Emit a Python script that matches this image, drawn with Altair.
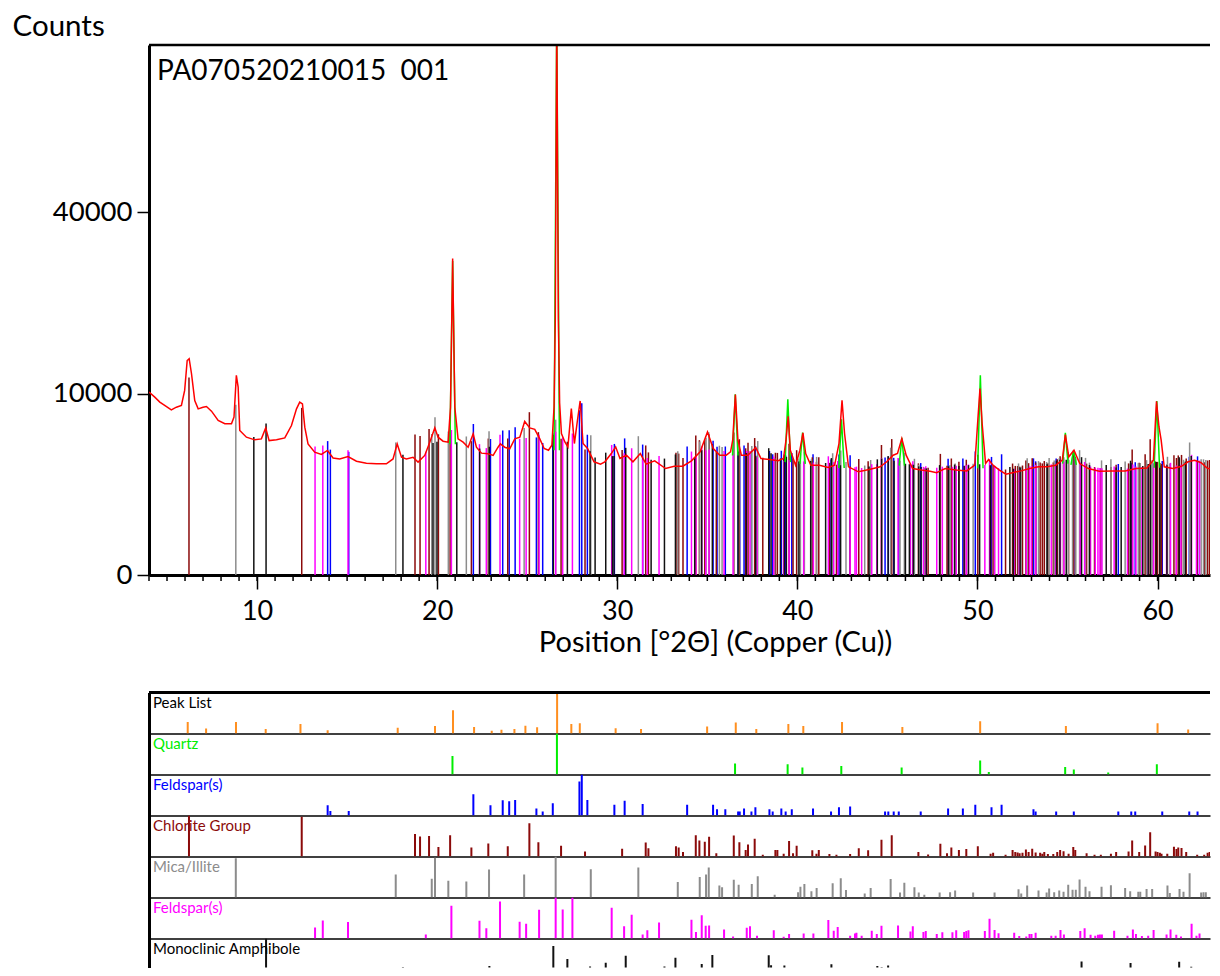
import altair as alt
import pandas as pd
import numpy as np

PX_PER_DEG = 18.01
W = 1061
X_MIN = 4.0
X_MAX = X_MIN + W / PX_PER_DEG
H_MAIN = 530
Y_MAX = 85500
PANEL_H = 41

# ---------------- measured pattern (red) ----------------
meas_x = [4.00, 4.32, 4.60, 4.87, 5.24, 5.52, 5.80, 5.98, 6.12, 6.23, 6.36, 6.54, 6.73, 7.00, 7.19,
          7.47, 7.84, 8.21, 8.58, 8.72, 8.85, 8.95, 9.04, 9.41, 9.87, 10.24, 10.48, 10.67, 11.08,
          11.54, 11.91, 12.19, 12.37, 12.52, 12.65, 12.83, 13.20, 13.57, 13.91, 14.22, 14.59, 15.05,
          15.52, 16.07, 16.63, 17.18, 17.55, 17.78, 18.02, 18.29, 18.66, 18.94, 19.31, 19.59, 19.87,
          20.05, 20.33, 20.61, 20.74, 20.86, 20.98, 21.16, 21.44, 21.72, 22.00, 22.18, 22.46, 22.83,
          23.11, 23.38, 23.51, 23.75, 24.03, 24.31, 24.59, 24.86, 25.14, 25.42, 25.70, 25.94, 26.18,
          26.37, 26.49, 26.56, 26.64, 26.73, 26.80, 26.90, 27.09, 27.26, 27.45, 27.62, 27.79, 27.94,
          28.10, 28.35, 28.71, 29.07, 29.31, 29.67, 29.91, 30.15, 30.51, 30.87, 31.28, 31.60, 32.08,
          32.68, 33.16, 33.64, 34.12, 34.60, 35.01, 35.33, 35.69, 36.05, 36.29, 36.41, 36.56, 36.70,
          36.89, 37.25, 37.69, 37.98, 38.46, 38.94, 39.23, 39.37, 39.49, 39.61, 39.90, 40.14, 40.31,
          40.46, 40.75, 41.23, 41.71, 42.07, 42.31, 42.48, 42.62, 42.84, 43.39, 43.99, 44.60, 44.96,
          45.32, 45.56, 45.80, 46.04, 46.40, 46.89, 47.37, 47.73, 48.21, 48.81, 49.41, 49.85, 50.02,
          50.14, 50.26, 50.45, 50.62, 50.86, 51.22, 51.58, 51.94, 52.42, 52.90, 53.39, 53.87, 54.35,
          54.71, 54.88, 55.07, 55.36, 55.68, 56.16, 56.76, 57.48, 58.20, 58.81, 59.41, 59.77, 59.94,
          60.08, 60.20, 60.37, 60.85, 61.33, 61.69, 62.06, 62.42, 62.78, 63.41]
meas_y = [10180, 9630, 9100, 8750, 8300, 8570, 8750, 10370, 14000, 14240, 12330, 9270, 8400, 8570, 8640,
          8170, 7270, 6960, 6960, 7600, 12130, 10750, 6360, 5780, 5560, 5640, 6590, 5500, 5560,
          5720, 6800, 8400, 9100, 8910, 6650, 5230, 4590, 4420, 4720, 4170, 4100, 4270,
          3940, 3800, 3760, 3760, 4100, 5230, 4220, 4100, 4220, 3880, 4350, 5370, 6590,
          5780, 5450, 5370, 8570, 30500, 8570, 5640, 5370, 4970, 6070, 4970, 4520, 4470,
          4350, 4970, 5230, 4970, 4850, 5640, 5780, 7180, 6590, 6460, 5640, 4870, 4740,
          5130, 8590, 20000, 95000, 20000, 9000, 6090, 5390, 5000, 8430, 5260, 7290, 9220,
          5260, 4870, 3900, 3740, 3900, 4490, 5000, 4130, 4370, 3900, 4490, 3740, 3970,
          3450, 3600, 3600, 3970, 4620, 6230, 4870, 4370, 4370, 4620, 5530, 9900, 5530,
          4370, 4370, 4940, 4130, 4060, 3970, 4130, 5530, 7670, 4740, 3670, 4740, 6150,
          4490, 3670, 3670, 3520, 3670, 5260, 9290, 6090, 3560, 3240, 3390, 3560, 3900,
          4370, 4490, 5670, 4370, 3450, 3350, 3280, 3180, 3450, 3350, 3300, 3670, 7290,
          10570, 6980, 3780, 4060, 3670, 3350, 3090, 3180, 3300, 3450, 3560, 3560, 3670,
          4010, 6000, 4250, 4740, 3780, 3450, 3280, 3300, 3300, 3450, 3490, 4010, 9190,
          6670, 5530, 3560, 3450, 3600, 3900, 4010, 3840, 3450, 3450]

# background level under the pattern (base of the reference sticks)
bg_x = [4, 5, 6, 7, 8, 9, 10, 11, 12, 13, 14, 15, 16, 17, 18, 19, 20, 21, 22, 23, 24, 25, 26, 27, 28,
        29, 30, 31, 32, 33, 34, 35, 36, 37, 38, 39, 40, 41, 42, 43, 44, 45, 46, 47, 48, 49, 50, 51,
        52, 53, 54, 55, 56, 57, 58, 59, 60, 61, 62, 63.5]
bg_y = [9900, 8400, 8300, 8200, 6900, 6200, 5500, 5450, 5300, 4700, 4300, 4150, 3850, 3750, 3950,
        4050, 5200, 5200, 4600, 4500, 4800, 5200, 4800, 4700, 4500, 3850, 4100, 4000, 3800, 3550,
        3900, 4300, 4350, 4350, 4050, 3950, 3800, 3650, 3600, 3350, 3400, 3800, 3600, 3320, 3350,
        3330, 3500, 3300, 3200, 3450, 3600, 3800, 3500, 3300, 3300, 3450, 3500, 3500, 3900, 3450]

# quartz calculated profile peaks (green)
qp_x = [20.86, 26.64, 36.55, 39.47, 40.29, 42.45, 45.80, 50.16, 54.88, 55.34, 59.96]
qp_y = [30000, 95000, 9940, 9400, 6180, 7380, 5720, 12140, 6150, 4740, 9220]

# ---------------- reference patterns (stick positions, relative intensity %) ----------------
peak_x = [6.15, 7.17, 8.83, 10.48, 12.41, 13.92, 17.81, 19.88, 20.88, 22.05, 23.03, 23.57, 24.29, 24.90,
          25.55, 26.66, 27.45, 27.92, 29.91, 31.32, 34.99, 36.58, 37.72, 39.50, 40.33, 42.48, 45.83,
          50.15, 54.91, 60.00, 61.70]
peak_i = [28, 12, 28, 11, 23, 8, 14, 18, 57, 16, 7, 9, 11, 19,
          15, 100, 23, 25, 13, 11, 17, 27, 11, 23, 18, 28, 16,
          30, 18, 25, 10]

quartz_x = [20.85, 26.65, 36.54, 39.46, 40.28, 42.44, 45.79, 50.15, 50.63, 54.87, 55.35, 57.26, 59.96]
quartz_i = [45, 100, 27, 25, 17, 21, 17, 34, 6, 18, 12, 5, 25]

felds_x = [13.92, 14.07, 15.09, 22.01, 22.96, 23.64, 24.00, 24.33, 25.51, 25.86, 26.42, 27.90, 28.03,
           28.34, 29.84, 30.41, 31.41, 33.88, 35.32, 35.54, 36.00, 36.71, 36.80, 37.04, 37.45, 37.67,
           38.45, 38.63, 39.11, 39.35, 39.69, 40.87, 41.87, 42.31, 42.93, 44.87, 45.05, 45.35, 45.63,
           46.85, 48.37, 49.19, 49.88, 50.78, 51.34, 53.11, 53.23, 54.37, 55.35, 57.82, 58.54, 58.76,
           60.26, 61.76, 62.22]
felds_i = [25, 11, 11, 52, 25, 37, 35, 38, 17, 10, 30, 83, 100,
           38, 26, 36, 28, 26, 26, 15, 15, 10, 10, 17, 10, 20,
           15, 10, 17, 10, 15, 17, 10, 20, 22, 10, 10, 10, 10,
           10, 17, 17, 26, 20, 26, 15, 10, 10, 10, 10, 10, 10,
           10, 10, 10]

chl_x = [6.22, 12.48, 18.77, 19.05, 19.55, 20.07, 20.72, 21.90, 22.84, 23.92,
         25.12, 25.62, 26.88, 28.21, 30.27, 31.58, 31.73, 33.26, 33.41, 33.65,
         34.36, 34.56, 34.86, 35.10, 35.50, 36.47, 36.78, 37.13, 37.26, 37.63,
         38.08, 38.78, 38.89, 39.24, 39.54, 39.76, 39.96, 40.83, 41.06, 41.19,
         41.78, 42.17, 42.93, 43.41, 43.93, 44.67, 45.24, 46.72, 47.26, 47.94,
         48.31, 48.55, 48.97, 49.38, 50.02, 50.73, 50.87, 51.56, 51.95, 52.10,
         52.23, 52.34, 52.50, 52.69, 52.84, 53.04, 53.23, 53.48, 53.60, 53.71,
         53.91, 54.21, 54.43, 54.59, 54.78, 55.06, 55.32, 55.43, 56.06, 56.50,
         56.85, 57.41, 57.70, 58.39, 58.59, 58.98, 59.31, 59.59, 59.89, 60.00,
         60.13, 60.22, 60.54, 60.91, 61.05, 61.15, 61.33, 61.59, 62.20, 62.59,
         62.78, 62.89, 63.03, 63.22, 63.37]
chl_i = [100, 97, 55, 49, 50, 23, 52, 22, 32, 25,
         81, 35, 26, 12, 19, 34, 20, 25, 22, 11,
         52, 39, 36, 48, 8, 51, 35, 16, 29, 43,
         4, 16, 16, 7, 38, 8, 26, 15, 7, 16,
         6, 4, 6, 20, 15, 41, 52, 11, 5, 31,
         8, 22, 16, 18, 25, 7, 9, 4, 16, 11,
         10, 8, 9, 17, 11, 19, 10, 9, 7, 11,
         6, 6, 11, 16, 13, 7, 23, 16, 8, 4,
         4, 7, 11, 12, 39, 11, 27, 59, 12, 11,
         9, 7, 7, 24, 18, 22, 21, 11, 4, 4,
         9, 11, 10, 7, 9]

mica_x = [8.82, 17.70, 19.70, 19.88, 20.62, 21.62, 22.88, 24.83, 26.58, 28.53,
          31.17, 33.36, 34.58, 34.93, 35.08, 35.67, 35.82, 36.47, 36.74, 37.47,
          37.80, 38.74, 40.04, 40.17, 40.39, 40.78, 41.07, 41.96, 42.41, 42.70,
          43.74, 44.07, 45.18, 45.70, 45.94, 46.50, 46.74, 47.05, 47.90, 48.48,
          48.76, 49.76, 50.95, 52.28, 52.43, 52.76, 53.39, 53.84, 53.98, 54.26,
          54.54, 54.78, 55.04, 55.28, 55.46, 55.67, 56.00, 56.22, 56.89, 57.41,
          58.20, 58.48, 58.93, 59.04, 59.39, 59.70, 60.55, 60.68, 61.22, 61.44,
          61.78, 62.42, 62.55, 62.68, 62.98, 63.11]
mica_i = [96, 56, 46, 97, 41, 39, 68, 56, 100, 69,
          73, 38, 50, 56, 73, 29, 25, 43, 31, 33,
          52, 7, 13, 26, 33, 15, 23, 35, 47, 18,
          10, 23, 45, 12, 36, 25, 12, 7, 12, 13,
          17, 12, 12, 20, 10, 29, 17, 12, 22, 13,
          17, 14, 31, 19, 19, 44, 26, 15, 26, 30,
          23, 15, 14, 14, 21, 21, 29, 11, 21, 14,
          59, 12, 13, 13, 17, 15]

feld2_x = [13.22, 13.65, 15.05, 19.37, 20.79, 22.35, 22.73, 23.49, 24.58, 24.94,
           25.66, 26.58, 26.97, 27.51, 29.69, 30.38, 30.80, 31.41, 31.67, 32.32,
           34.12, 34.37, 34.69, 34.91, 35.10, 35.93, 36.43, 37.19, 37.37, 37.76,
           38.69, 39.24, 39.54, 40.35, 40.89, 41.72, 42.02, 42.24, 42.93, 43.20,
           43.28, 43.57, 44.13, 44.41, 44.67, 45.59, 46.28, 46.41, 47.00, 47.13,
           47.74, 48.05, 48.61, 48.82, 49.26, 49.38, 49.50, 50.41, 50.67, 50.95,
           51.17, 52.04, 52.32, 52.71, 52.89, 53.00, 53.23, 54.10, 54.34, 54.61,
           54.80, 55.71, 55.95, 56.28, 56.54, 56.69, 56.80, 56.91, 57.59, 58.33,
           58.63, 58.80, 59.13, 59.48, 59.78, 60.50, 60.72, 61.04, 61.30, 61.89,
           62.16, 62.33, 63.16]
feld2_i = [27, 44, 40, 10, 80, 43, 25, 90, 41, 36,
           70, 100, 71, 100, 75, 30, 58, 10, 20, 39,
           46, 16, 57, 31, 32, 22, 5, 26, 30, 7,
           20, 4, 11, 12, 12, 45, 19, 28, 7, 12,
           14, 7, 19, 11, 31, 32, 17, 30, 16, 18,
           11, 15, 15, 20, 16, 18, 20, 18, 48, 21,
           13, 14, 6, 5, 11, 11, 14, 7, 7, 21,
           10, 18, 25, 9, 7, 9, 10, 10, 19, 7,
           22, 11, 6, 7, 21, 10, 22, 9, 5, 36,
           7, 12, 16]

amph_x = [9.82, 10.50, 18.10, 19.77, 19.99, 21.09, 22.36, 22.90, 26.45, 27.23,
          28.49, 28.77, 29.36, 29.73, 29.82, 30.47, 31.88, 32.62, 33.23, 34.30,
          34.69, 35.28, 36.71, 37.17, 37.69, 38.41, 38.54, 39.06, 39.28, 39.39,
          40.09, 40.74, 41.57, 41.89, 42.39, 43.98, 44.44, 44.68, 45.04, 45.37,
          46.00, 46.22, 46.44, 46.74, 46.87, 47.16, 47.90, 48.40, 48.73, 48.97,
          49.26, 49.50, 50.12, 50.71, 51.80, 52.00, 52.37, 53.87, 54.39, 54.58,
          54.93, 55.78, 56.22, 57.15, 57.70, 57.98, 58.50, 59.18, 59.48, 59.61,
          59.93, 60.13, 60.52, 61.20, 61.54, 61.87, 63.07, 63.26]
amph_i = [12, 100, 30, 25, 14, 15, 20, 33, 82, 50,
          32, 13, 41, 18, 17, 58, 15, 32, 53, 14,
          38, 60, 20, 15, 12, 59, 35, 13, 34, 24,
          9, 18, 13, 37, 11, 12, 33, 30, 34, 17,
          11, 13, 15, 13, 13, 9, 22, 17, 25, 19,
          17, 17, 17, 20, 22, 16, 15, 10, 20, 22,
          17, 44, 15, 25, 14, 17, 40, 11, 18, 20,
          26, 10, 11, 43, 13, 31, 14, 16]

minor_ticks = list(range(4, 63))
major_ticks = [10, 20, 30, 40, 50, 60]

# phase: label, stick colour, label colour, xs, intensities, stick scale in main plot (counts per 100 %)
phases = [
    ("Peak List", "#FF8F1F", "#000000", peak_x, peak_i, None),
    ("Quartz", "#00EE00", "#00EE00", quartz_x, quartz_i, None),
    ("Feldspar(s)", "#0000FF", "#0000FF", felds_x, felds_i, 4500),
    ("Chlorite Group", "#8B0A0A", "#8B0A0A", chl_x, chl_i, 3600),
    ("Mica/Illite", "#8C8C8C", "#8C8C8C", mica_x, mica_i, 2600),
    ("Feldspar(s)", "#FF00FF", "#FF00FF", feld2_x, feld2_i, 1500),
    ("Monoclinic Amphibole", "#111111", "#000000", amph_x, amph_i, 1500),
]

FONT = "Lato"
one = pd.DataFrame({"k": [0]})

xscale = alt.Scale(domain=[X_MIN, X_MAX], nice=False, zero=False)
yscale = alt.Scale(type="sqrt", domain=[0, Y_MAX], nice=False)

x_axis = alt.Axis(values=major_ticks, tickSize=14, tickWidth=1.5, tickColor="black",
                  domainWidth=3, domainColor="black", labelFontSize=27, labelFont=FONT,
                  labelColor="black", labelPadding=9.5, labelFlush=False,
                  title="Position [°2Θ] (Copper (Cu))", titleFontSize=29, titleFont=FONT,
                  titleFontWeight="normal", titleColor="black", titlePadding=4,
                  titleX=566, titleAlign="center", grid=False)
y_axis = alt.Axis(values=[0, 10000, 40000], format="d", tickSize=12, tickWidth=1.5,
                  tickColor="black", domainWidth=3, domainColor="black", labelFontSize=27.5,
                  labelFont=FONT, labelColor="black", labelPadding=5, labelFlush=False,
                  title="Counts", titleAngle=0, titleAlign="left", titleBaseline="alphabetic",
                  titleX=-137, titleY=-10, titleFontSize=29.5, titleFont=FONT,
                  titleFontWeight="normal", titleColor="black", grid=False)

X = alt.X("x:Q", scale=xscale, axis=x_axis)

# main-plot sticks
rows = []
for name, col, lab_col, xs, ints, S in phases:
    if S is None:
        continue
    base = np.interp(xs, bg_x, bg_y)
    for xv, iv, b in zip(xs, ints, base):
        rows.append({"x": xv, "top": b + S * iv / 100.0, "base": 0, "c": col})
sticks_df = pd.DataFrame(rows)

sticks = alt.Chart(sticks_df).mark_rule(strokeWidth=1.5, clip=True).encode(
    x=X, y=alt.Y("top:Q", scale=yscale, axis=y_axis), y2=alt.Y2("base:Q"),
    color=alt.Color("c:N", scale=None))

meas_df = pd.DataFrame({"x": meas_x, "y": meas_y})
red = alt.Chart(meas_df).mark_line(color="#FF0000", strokeWidth=1.5, clip=True).encode(
    x=X, y=alt.Y("y:Q", scale=yscale, axis=y_axis))

HW = 0.15
grows = []
for k, (c, h) in enumerate(zip(qp_x, qp_y)):
    b = float(np.interp(c, bg_x, bg_y))
    grows += [{"x": c - HW, "y": b, "p": k}, {"x": c, "y": h, "p": k}, {"x": c + HW, "y": b, "p": k}]
green = alt.Chart(pd.DataFrame(grows)).mark_line(color="#00EE00", strokeWidth=1.5, clip=True).encode(
    x=X, y=alt.Y("y:Q", scale=yscale, axis=y_axis), detail="p:N")

minor = alt.Chart(pd.DataFrame({"x": minor_ticks})).mark_rule(color="black", strokeWidth=1.5).encode(
    x=X, y=alt.value(H_MAIN), y2=alt.value(H_MAIN + 6))

top_border = alt.Chart(one).mark_rule(color="black", strokeWidth=2.5).encode(
    x=alt.value(0), x2=alt.value(W), y=alt.value(0))

title_txt = alt.Chart(one).mark_text(text="PA070520210015 \u00a0001", align="left",
                                      baseline="alphabetic", fontSize=28, font=FONT,
                                      color="black").encode(x=alt.value(8), y=alt.value(35))

main = alt.layer(sticks, green, red, minor, top_border, title_txt).properties(width=W, height=H_MAIN)

# ---------------- stick panels ----------------
panels = []
n = len(phases)
for k, (name, col, lab_col, xs, ints, S) in enumerate(phases):
    last = (k == n - 1)
    if last:
        h = 29
        dom = [29.27, 100]
    else:
        h = PANEL_H
        dom = [0, 100]
    df = pd.DataFrame({"x": xs, "i": ints})
    df["b"] = 0
    if last:
        xa = None
    else:
        xa = alt.Axis(domain=True, domainColor="#404040", domainWidth=2, ticks=False,
                      labels=False, title=None, grid=False)
    ya = alt.Axis(domain=True, domainColor="black", domainWidth=3, ticks=False,
                  labels=False, title=None, grid=False)
    PX = alt.X("x:Q", scale=alt.Scale(domain=[X_MIN, X_MAX], nice=False, zero=False), axis=xa)
    rules = alt.Chart(df).mark_rule(color=col, strokeWidth=2, clip=True).encode(
        x=PX, y=alt.Y("i:Q", scale=alt.Scale(domain=dom, nice=False, zero=False), axis=ya),
        y2=alt.Y2("b:Q"))
    label = alt.Chart(one).mark_text(text=name, align="left", baseline="alphabetic",
                                     fontSize=15, font=FONT, color=lab_col).encode(
        x=alt.value(4), y=alt.value(15))
    layers = [rules, label]
    if k == 0:
        layers.append(alt.Chart(one).mark_rule(color="black", strokeWidth=3).encode(
            x=alt.value(0), x2=alt.value(W), y=alt.value(0)))
    panels.append(alt.layer(*layers).properties(width=W, height=h))

stack = alt.vconcat(*panels, spacing=0)

chart = alt.vconcat(main, stack, spacing=32.5).properties(
    padding={"left": 4, "top": 3, "right": 0, "bottom": 0}
).configure_view(strokeOpacity=0).configure_axis(grid=False)

chart.save("out.html", embed_options={"renderer": "svg", "actions": False})
